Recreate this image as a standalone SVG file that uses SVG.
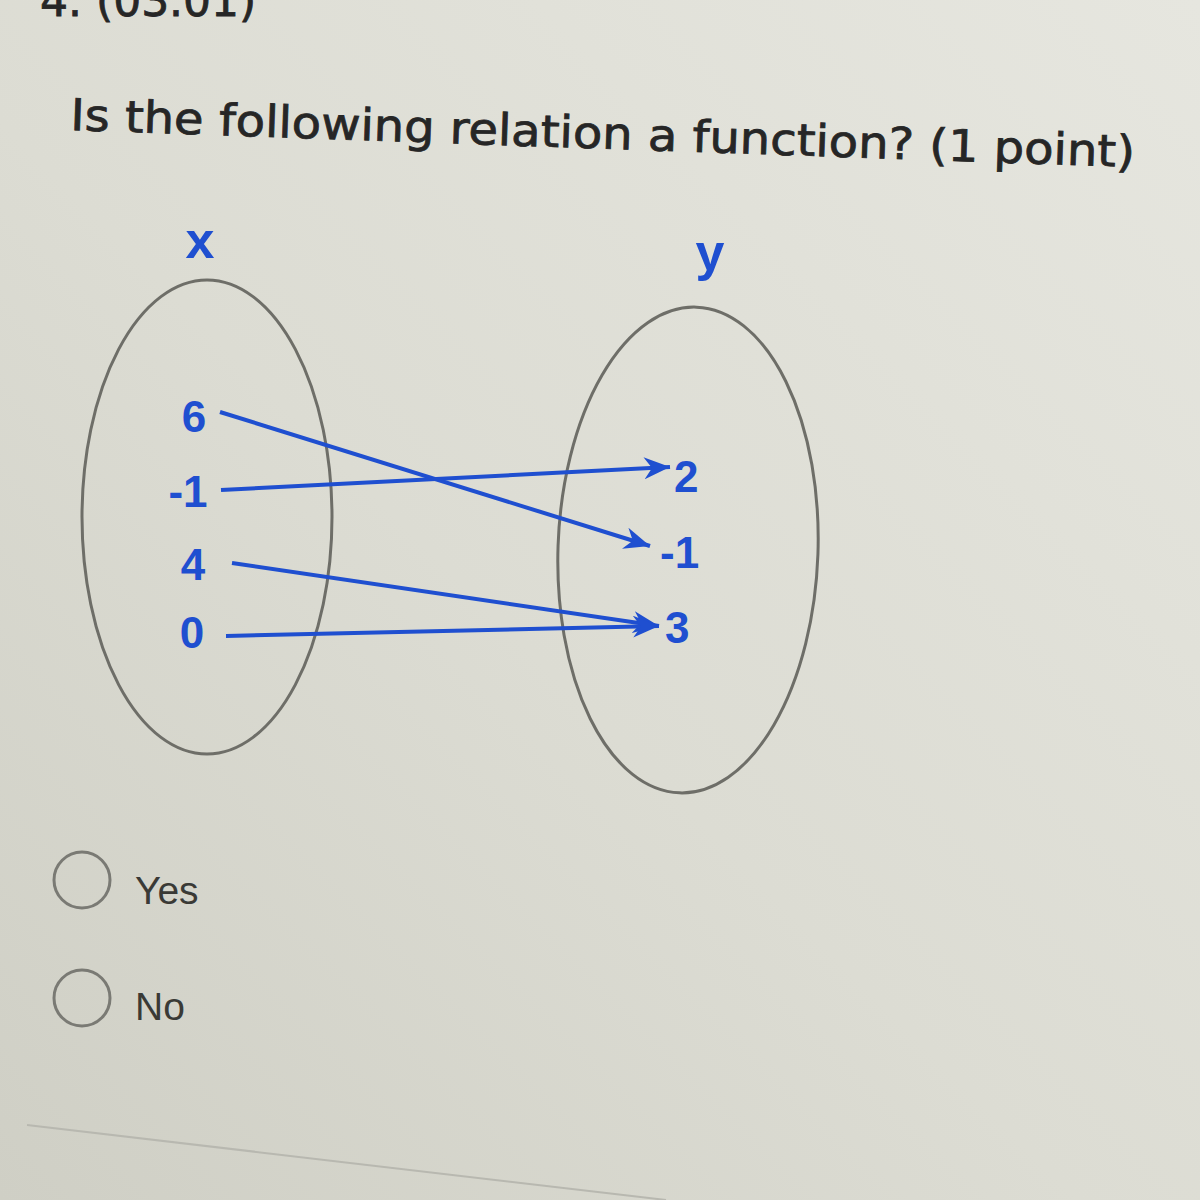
<svg xmlns="http://www.w3.org/2000/svg" width="1200" height="1200" viewBox="0 0 1200 1200">
<defs>
<linearGradient id="bg" x1="1" y1="0" x2="0" y2="1">
<stop offset="0" stop-color="#e6e6df"/>
<stop offset="0.55" stop-color="#dcdcd3"/>
<stop offset="1" stop-color="#cfcfc5"/>
</linearGradient>
<marker id="ah" markerWidth="28" markerHeight="22" refX="26" refY="11" orient="auto" markerUnits="userSpaceOnUse">
<path d="M0,0 L26,11 L0,22 L8,11 Z" fill="#1f4fd0"/>
</marker>
<style>
.q{font-family:"DejaVu Sans",Verdana,sans-serif;fill:#262626;stroke:#262626;stroke-width:0.8}
.lbl{font-family:"Liberation Sans",Arial,sans-serif;font-weight:bold;fill:#1f4fd0}
.set{fill:none;stroke:#6e6e68;stroke-width:3}
.arr{stroke:#1f4fd0;stroke-width:4;fill:none}
.opt{font-family:"Liberation Sans",Arial,sans-serif;fill:#3a3a36;font-size:39px}
.radio{fill:none;stroke:#7a7a74;stroke-width:3}
</style>
</defs>
<rect width="1200" height="1200" fill="url(#bg)"/>
<text class="q" x="40" y="16" font-size="44">4. (03.01)</text>
<text class="q" x="70" y="130" font-size="44" textLength="1065" lengthAdjust="spacingAndGlyphs" transform="rotate(2 70 130)">Is the following relation a function? (1 point)</text>

<g id="set-x">
<ellipse class="set" cx="207" cy="517" rx="125" ry="237"/>
<text class="lbl" x="200" y="258" font-size="52" text-anchor="middle">x</text>
</g>
<g id="set-y">
<ellipse class="set" cx="688" cy="550" rx="130" ry="243" transform="rotate(2 688 550)"/>
<text class="lbl" x="710" y="270" font-size="52" text-anchor="middle">y</text>
</g>

<g id="x-values" class="lbl" font-size="44" text-anchor="middle">
<text id="x-6" x="194" y="432">6</text>
<text id="x-m1" x="188" y="507">-1</text>
<text id="x-4" x="193" y="580">4</text>
<text id="x-0" x="192" y="648">0</text>
</g>
<g id="y-values" class="lbl" font-size="44">
<text id="y-2" x="674" y="492">2</text>
<text id="y-m1" x="660" y="568">-1</text>
<text id="y-3" x="665" y="643">3</text>
</g>

<g id="connectors">
<line class="arr" x1="220" y1="412" x2="650" y2="546" marker-end="url(#ah)"/>
<line class="arr" x1="221" y1="490" x2="670" y2="467" marker-end="url(#ah)"/>
<line class="arr" x1="232" y1="563" x2="659" y2="626" marker-end="url(#ah)"/>
<line class="arr" x1="226" y1="636" x2="659" y2="626" marker-end="url(#ah)"/>
</g>

<g id="option-yes">
<circle class="radio" cx="82" cy="880" r="28"/>
<text class="opt" x="135" y="904">Yes</text>
</g>
<g id="option-no">
<circle class="radio" cx="82" cy="998" r="28"/>
<text class="opt" x="135" y="1020">No</text>
</g>
<line x1="27" y1="1125" x2="666" y2="1200" stroke="#b8b8b0" stroke-width="2"/>
</svg>
